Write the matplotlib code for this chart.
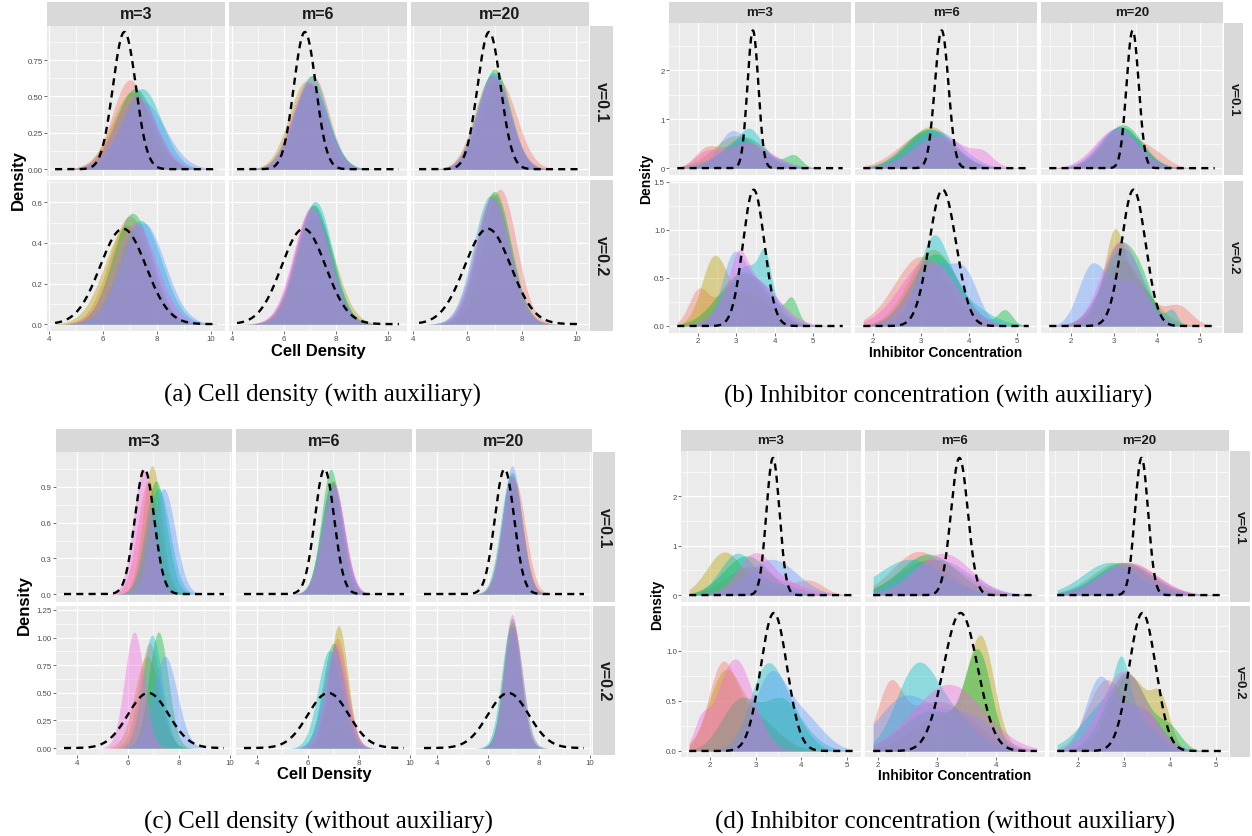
import numpy as np
import matplotlib
matplotlib.use("Agg")
import matplotlib.pyplot as plt
from matplotlib.ticker import FixedLocator

# ---------------- data ----------------
COLORS = ["#F8766D", "#B79F00", "#00BA38", "#00BFC4", "#619CFF", "#F564E3"]
M_LABELS = ["m=3", "m=6", "m=20"]
V_LABELS = ["v=0.1", "v=0.2"]
# panel order: v=0.1 (m=3, m=6, m=20), v=0.2 (m=3, m=6, m=20); 6 series each

# (a) Cell density (with auxiliary): one normal per series
A_MU = [[7.0, 7.1, 7.2, 7.45, 7.45, 7.2],
        [7.1, 6.85, 7.0, 7.05, 7.0, 6.95],
        [7.15, 6.9, 7.0, 6.95, 6.95, 6.95],
        [7.0, 6.9, 7.1, 7.4, 7.5, 7.2],
        [7.1, 7.2, 7.15, 7.2, 7.1, 7.05],
        [7.2, 6.95, 7.0, 6.85, 6.95, 6.9]]
A_SD = [[0.65, 0.75, 0.72, 0.72, 0.85, 0.78],
        [0.62, 0.66, 0.68, 0.62, 0.68, 0.66],
        [0.65, 0.62, 0.58, 0.60, 0.61, 0.62],
        [0.75, 0.82, 0.73, 0.78, 0.80, 0.80],
        [0.68, 0.75, 0.68, 0.66, 0.70, 0.70],
        [0.60, 0.62, 0.61, 0.63, 0.64, 0.64]]
A_REF_MU = [6.8, 6.75]
A_REF_SD = [0.423, 0.849]

# (c) Cell density (without auxiliary)
C_MU = [[6.8, 6.95, 7.1, 7.2, 7.4, 6.6],
        [7.0, 6.95, 6.9, 6.95, 7.0, 7.0],
        [7.05, 6.95, 6.95, 6.9, 6.95, 6.95],
        [6.85, 6.75, 7.2, 6.95, 7.45, 6.25],
        [7.15, 7.2, 7.0, 6.85, 7.05, 7.1],
        [7.0, 6.95, 6.95, 6.9, 7.0, 6.95]]
C_SD = [[0.42, 0.37, 0.42, 0.45, 0.45, 0.38],
        [0.42, 0.42, 0.38, 0.43, 0.43, 0.44],
        [0.42, 0.40, 0.39, 0.40, 0.37, 0.40],
        [0.42, 0.48, 0.38, 0.39, 0.48, 0.38],
        [0.40, 0.36, 0.42, 0.45, 0.45, 0.42],
        [0.36, 0.35, 0.34, 0.36, 0.37, 0.33]]
C_REF_MU = [6.65, 6.8]
C_REF_SD = [0.38, 0.80]

# (b) Inhibitor concentration (with auxiliary): two-bump series
B_MU1 = [[3.2, 3.0, 3.2, 3.1, 3.5, 3.3],
         [3.1, 3.2, 3.15, 3.2, 3.3, 3.4],
         [3.2, 3.15, 3.2, 3.15, 3.1, 3.05],
         [3.2, 3.3, 3.2, 3.3, 3.6, 3.4],
         [3.0, 3.25, 3.3, 3.6, 3.3, 3.15],
         [3.2, 3.3, 3.05, 3.2, 3.3, 3.15]]
B_SD1 = [[0.55, 0.60, 0.55, 0.70, 0.60, 0.60],
         [0.55, 0.47, 0.50, 0.50, 0.52, 0.55],
         [0.50, 0.47, 0.45, 0.47, 0.48, 0.50],
         [0.60, 0.60, 0.65, 0.55, 0.50, 0.65],
         [0.55, 0.50, 0.50, 0.60, 0.50, 0.58],
         [0.50, 0.55, 0.35, 0.47, 0.50, 0.45]]
B_W2 = [[0.25, 0.0, 0.12, 0.35, 0.50, 0.20],
        [0.0, 0.0, 0.0, 0.0, 0.0, 0.10],
        [0.12, 0.0, 0.0, 0.0, 0.0, 0.0],
        [0.20, 0.50, 0.08, 0.13, 0.45, 0.20],
        [0.0, 0.0, 0.06, 0.50, 0.20, 0.0],
        [0.15, 0.28, 0.33, 0.04, 0.40, 0.0]]
B_MU2 = [[2.2, 3.0, 4.5, 3.35, 2.85, 2.2],
         [3.0, 3.0, 3.0, 3.0, 3.0, 4.3],
         [4.0, 3.0, 3.0, 3.0, 3.0, 3.0],
         [2.0, 2.4, 4.45, 3.75, 2.9, 3.05],
         [3.0, 3.0, 4.75, 3.25, 3.95, 3.0],
         [4.5, 3.0, 3.6, 4.35, 2.45, 3.0]]
B_SD2 = [[0.30, 0.30, 0.20, 0.30, 0.35, 0.30],
         [0.30, 0.30, 0.30, 0.30, 0.30, 0.20],
         [0.30, 0.30, 0.30, 0.30, 0.30, 0.30],
         [0.25, 0.32, 0.15, 0.15, 0.30, 0.22],
         [0.30, 0.30, 0.15, 0.30, 0.25, 0.30],
         [0.30, 0.20, 0.30, 0.12, 0.30, 0.30]]
B_REF_MU = [3.43, 3.45]
B_REF_SD = [0.142, 0.281]

# (d) Inhibitor concentration (without auxiliary)
D_MU1 = [[2.9, 2.3, 2.8, 2.6, 3.35, 2.95],
         [2.7, 2.9, 2.85, 2.55, 3.0, 3.1],
         [3.1, 2.9, 3.0, 2.7, 3.0, 3.1],
         [2.25, 2.3, 2.65, 3.2, 3.3, 2.55],
         [3.0, 3.1, 2.9, 2.65, 2.45, 3.2],
         [2.6, 3.1, 3.05, 2.8, 3.3, 3.0]]
D_SD1 = [[0.55, 0.38, 0.50, 0.38, 0.55, 0.35],
         [0.45, 0.55, 0.48, 0.55, 0.55, 0.47],
         [0.62, 0.60, 0.60, 0.60, 0.65, 0.60],
         [0.30, 0.35, 0.40, 0.35, 0.35, 0.40],
         [0.60, 0.50, 0.50, 0.35, 0.45, 0.60],
         [0.40, 0.42, 0.45, 0.60, 0.45, 0.50]]
D_W2 = [[0.20, 0.20, 0.0, 0.20, 0.0, 0.45],
        [0.0, 0.0, 0.0, 0.0, 0.0, 0.0],
        [0.0, 0.0, 0.0, 0.0, 0.0, 0.0],
        [0.45, 0.40, 0.50, 0.50, 0.40, 0.08],
        [0.25, 0.55, 0.50, 0.30, 0.40, 0.0],
        [0.30, 0.20, 0.12, 0.15, 0.50, 0.0]]
D_MU2 = [[4.2, 3.2, 3.0, 3.6, 3.0, 3.4],
         [3.0, 3.0, 3.0, 3.0, 3.0, 3.0],
         [3.0, 3.0, 3.0, 3.0, 3.0, 3.0],
         [2.9, 3.0, 3.6, 3.6, 4.0, 1.8],
         [2.2, 3.75, 3.7, 3.3, 3.5, 3.0],
         [3.5, 3.8, 4.0, 2.95, 2.45, 3.0]]
D_SD2 = [[0.30, 0.50, 0.30, 0.40, 0.30, 0.60],
         [0.30, 0.30, 0.30, 0.30, 0.30, 0.30],
         [0.30, 0.30, 0.30, 0.30, 0.30, 0.30],
         [0.50, 0.50, 0.40, 0.50, 0.45, 0.15],
         [0.20, 0.22, 0.22, 0.40, 0.45, 0.30],
         [0.35, 0.20, 0.25, 0.15, 0.30, 0.30]]
D_REF_MU = [3.38, 3.40]
D_REF_SD = [0.1435, 0.29]

# ---------------- helpers ----------------
W, H = 1252, 837
fig = plt.figure(figsize=(W / 100, H / 100), dpi=100)
SANS = ["Liberation Sans", "DejaVu Sans"]
SERIF = ["Liberation Serif", "DejaVu Serif"]


def box(x0, y0, x1, y1):
    return [x0 / W, 1 - y1 / H, (x1 - x0) / W, (y1 - y0) / H]


def npdf(x, mu, sd):
    return np.exp(-0.5 * ((x - mu) / sd) ** 2) / (sd * np.sqrt(2 * np.pi))


def single(mu, sd):
    def f(p, s, x):
        return npdf(x, mu[p][s], sd[p][s])
    return f


def mixture(mu1, sd1, w2, mu2, sd2):
    def f(p, s, x):
        w = w2[p][s]
        y = (1 - w) * npdf(x, mu1[p][s], sd1[p][s])
        if w > 0:
            y = y + w * npdf(x, mu2[p][s], sd2[p][s])
        return y
    return f


def draw_sub(cfg, dens, ref_mu, ref_sd):
    cols, rows = cfg["cols"], cfg["rows"]
    for r in range(2):
        for c in range(3):
            p = r * 3 + c
            ax = fig.add_axes(box(cols[c][0], rows[r][0], cols[c][1], rows[r][1]))
            ax.set_facecolor("#EBEBEB")
            for sp in ax.spines.values():
                sp.set_visible(False)
            xlo, xhi = cfg["xlims"][c]
            ylo, yhi = cfg["ylims"][r]
            ax.set_xlim(xlo, xhi)
            ax.set_ylim(ylo, yhi)
            xt = cfg["xticks"][c]
            yt, ytl = cfg["yticks"][r]
            xs = xt[1] - xt[0]
            ys = yt[1] - yt[0]
            ax.xaxis.set_major_locator(FixedLocator(xt))
            ax.yaxis.set_major_locator(FixedLocator(yt))
            ax.xaxis.set_minor_locator(FixedLocator(np.arange(xt[0] - 1.5 * xs, xt[-1] + 2 * xs, xs)))
            ax.yaxis.set_minor_locator(FixedLocator(np.arange(yt[0] + ys / 2, yt[-1] + 2 * ys, ys)))
            ax.grid(True, which="major", color="white", lw=0.9, zorder=0)
            ax.grid(True, which="minor", color="white", lw=0.45, zorder=0)
            ax.set_axisbelow(True)
            pad = (xhi - xlo) * 0.05 / 1.1
            x = np.linspace(xlo + pad, xhi - pad, 500)
            for s in range(6):
                y = dens(p, s, x)
                ax.fill_between(x, 0, y, color=COLORS[s], alpha=0.4, lw=0, zorder=2)
            yr = npdf(x, ref_mu[r], ref_sd[r])
            ax.plot(x, yr, color="black", lw=1.7, ls=(0, (3.0, 2.2)), zorder=3)
            ax.tick_params(which="minor", length=0)
            ax.tick_params(which="major", length=2, width=0.5, color="#333333",
                           labelsize=cfg["tick_fs"], labelcolor="#4D4D4D", pad=1)
            if r == 1:
                ax.set_xticklabels([("%g" % v) for v in xt], family=SANS)
            else:
                ax.tick_params(axis="x", length=0, labelbottom=False)
            if c == 0:
                ax.set_yticklabels(ytl, family=SANS)
            else:
                ax.tick_params(axis="y", length=0, labelleft=False)
        # right strip
        sx0, sx1 = cfg["strip_right"]
        sax = fig.add_axes(box(sx0, rows[r][0], sx1, rows[r][1]))
        sax.set_facecolor("#D9D9D9")
        sax.set_xticks([]); sax.set_yticks([])
        for sp in sax.spines.values():
            sp.set_visible(False)
        sax.text(0.5, 0.5, V_LABELS[r], rotation=-90, ha="center", va="center",
                 fontsize=cfg["strip_fs"], fontweight="bold", color="#1A1A1A",
                 family=SANS, transform=sax.transAxes)
    ty0, ty1 = cfg["strip_top"]
    for c in range(3):
        sax = fig.add_axes(box(cols[c][0], ty0, cols[c][1], ty1))
        sax.set_facecolor("#D9D9D9")
        sax.set_xticks([]); sax.set_yticks([])
        for sp in sax.spines.values():
            sp.set_visible(False)
        sax.text(0.5, 0.5, M_LABELS[c], ha="center", va="center",
                 fontsize=cfg["strip_fs"], fontweight="bold", color="#1A1A1A",
                 family=SANS, transform=sax.transAxes)
    xlx, xly = cfg["xlabel_pos"]
    fig.text(xlx / W, 1 - xly / H, cfg["xlabel"], ha="center", va="center",
             fontsize=cfg["title_fs"], fontweight="bold", family=SANS)
    ylx, yly = cfg["ylabel_pos"]
    fig.text(ylx / W, 1 - yly / H, "Density", ha="center", va="center", rotation=90,
             fontsize=cfg["title_fs"], fontweight="bold", family=SANS)
    cx, cy = cfg["caption_pos"]
    fig.text(cx / W, 1 - cy / H, cfg["caption"], ha="center", va="center",
             fontsize=18, family=SERIF)


CFG_A = dict(cols=[(47, 225), (229, 407), (411, 589)], rows=[(27, 177), (181, 332)],
             strip_top=(3, 27), strip_right=(590, 613),
             xlims=[(3.93, 10.53), (3.88, 10.73), (3.93, 10.47)],
             ylims=[(-0.047, 0.984), (-0.034, 0.71)],
             xticks=[[4, 6, 8, 10]] * 3,
             yticks=[([0, 0.25, 0.5, 0.75], ["0.00", "0.25", "0.50", "0.75"]),
                     ([0, 0.2, 0.4, 0.6], ["0.0", "0.2", "0.4", "0.6"])],
             strip_fs=11.5, tick_fs=5.7, title_fs=12,
             xlabel="Cell Density", xlabel_pos=(318, 352), ylabel_pos=(18, 180),
             caption="(a) Cell density (with auxiliary)", caption_pos=(323, 395))
CFG_B = dict(cols=[(669, 851), (855, 1037), (1041, 1223)], rows=[(24, 176), (182, 334)],
             strip_top=(3, 24), strip_right=(1224, 1243),
             xlims=[(1.24, 5.99), (1.625, 5.415), (1.30, 5.53)],
             ylims=[(-0.14, 2.96), (-0.073, 1.51)],
             xticks=[[2, 3, 4, 5]] * 3,
             yticks=[([0, 1, 2], ["0", "1", "2"]),
                     ([0, 0.5, 1.0, 1.5], ["0.0", "0.5", "1.0", "1.5"])],
             strip_fs=9.5, tick_fs=5.7, title_fs=10,
             xlabel="Inhibitor Concentration", xlabel_pos=(946, 353), ylabel_pos=(646, 179),
             caption="(b) Inhibitor concentration (with auxiliary)", caption_pos=(938, 396))
CFG_C = dict(cols=[(56, 232), (236, 412), (416, 592)], rows=[(453, 603), (607, 756)],
             strip_top=(430, 453), strip_right=(593, 615),
             xlims=[(3.18, 10.08), (3.18, 10.08), (3.18, 10.08)],
             ylims=[(-0.067, 1.194), (-0.063, 1.286)],
             xticks=[[4, 6, 8, 10]] * 3,
             yticks=[([0, 0.3, 0.6, 0.9], ["0.0", "0.3", "0.6", "0.9"]),
                     ([0, 0.25, 0.5, 0.75, 1.0, 1.25], ["0.00", "0.25", "0.50", "0.75", "1.00", "1.25"])],
             strip_fs=11.5, tick_fs=5.7, title_fs=12,
             xlabel="Cell Density", xlabel_pos=(324, 775), ylabel_pos=(24, 605),
             caption="(c) Cell density (without auxiliary)", caption_pos=(318, 822))
CFG_D = dict(cols=[(681, 861), (865, 1045), (1049, 1229)], rows=[(452, 603), (607, 758)],
             strip_top=(431, 452), strip_right=(1230, 1250),
             xlims=[(1.364, 5.31), (1.78, 4.83), (1.37, 5.28)],
             ylims=[(-0.14, 2.92), (-0.06, 1.445)],
             xticks=[[2, 3, 4, 5], [2, 3, 4], [2, 3, 4, 5]],
             yticks=[([0, 1, 2], ["0", "1", "2"]),
                     ([0, 0.5, 1.0], ["0.0", "0.5", "1.0"])],
             strip_fs=9.5, tick_fs=5.7, title_fs=10,
             xlabel="Inhibitor Concentration", xlabel_pos=(955, 776), ylabel_pos=(657, 605),
             caption="(d) Inhibitor concentration (without auxiliary)", caption_pos=(945, 822))

draw_sub(CFG_A, single(A_MU, A_SD), A_REF_MU, A_REF_SD)
draw_sub(CFG_B, mixture(B_MU1, B_SD1, B_W2, B_MU2, B_SD2), B_REF_MU, B_REF_SD)
draw_sub(CFG_C, single(C_MU, C_SD), C_REF_MU, C_REF_SD)
draw_sub(CFG_D, mixture(D_MU1, D_SD1, D_W2, D_MU2, D_SD2), D_REF_MU, D_REF_SD)

fig.savefig("out.png", dpi=100, facecolor="white")
